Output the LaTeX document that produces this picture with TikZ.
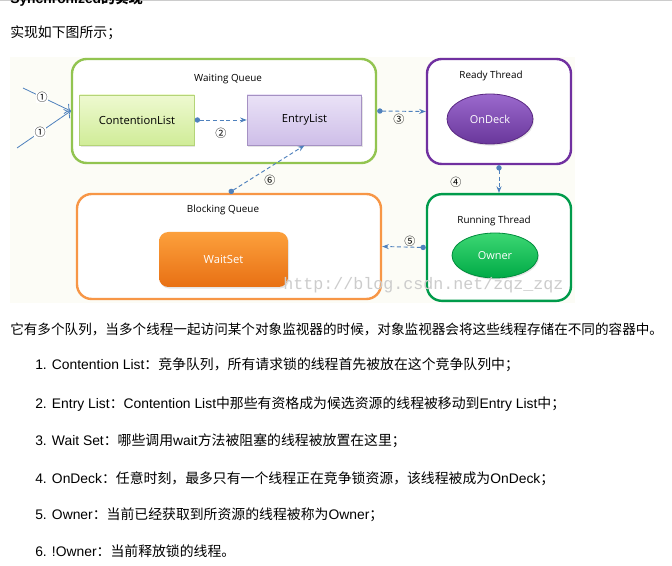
\documentclass[tikz,border=0pt]{standalone}
\usepackage{fontspec}
\setmainfont{Liberation Sans}
\newfontfamily\cjk{Noto Sans CJK SC}
\newfontfamily\diag{Open Sans}
\newfontfamily\wmark{Liberation Mono}
\usepackage{tikz}
\usetikzlibrary{shapes.geometric,arrows.meta,shadows}
\definecolor{wqgreen}{RGB}{146,196,80}
\definecolor{rtpurple}{RGB}{112,48,160}
\definecolor{rngreen}{RGB}{0,155,75}
\definecolor{bqorange}{RGB}{247,150,70}
\definecolor{flowblue}{RGB}{79,129,189}
\definecolor{diagbg}{RGB}{252,252,246}
\tikzset{
    queue/.style={draw, rounded corners=11pt, line width=1.8pt, fill=white},
    qtitle/.style={font=\diag\fontsize{7.4}{8}\selectfont, inner sep=1pt},
    listbox/.style={draw, line width=0.6pt, minimum width=86pt, minimum height=37.5pt,
        font=\diag\fontsize{8.4}{9}\selectfont,
        drop shadow={opacity=0.2, shadow xshift=0.8pt, shadow yshift=-1.2pt}},
    thread/.style={ellipse, draw, line width=0.6pt, minimum width=64.5pt, text=white,
        font=\diag\fontsize{8.2}{9}\selectfont,
        drop shadow={opacity=0.2, shadow xshift=0.8pt, shadow yshift=-1.2pt}},
    num/.style={font=\cjk\fontsize{8.3}{9}\selectfont, inner sep=0.3pt},
    flow/.style={draw=flowblue, densely dashed, line width=0.7pt, arrows={Circle[length=4pt]-Stealth[length=5pt]}},
    entry/.style={draw=flowblue, line width=0.6pt, arrows={-To[length=4pt]}},
    textline/.style={anchor=west, inner sep=0pt, font=\fontsize{10.4}{12}\selectfont}
}
\begin{document}
\begin{tikzpicture}[x=0.75pt, y=-0.75pt]
    \useasboundingbox (0,0) rectangle (672,566);
    \clip (0,0) rectangle (672,566);
    \fill[white] (0,0) rectangle (672,566);
    \draw[gray!40, line width=1pt] (0,0.5) -- (672,0.5);

    % Text above
    \node[anchor=base west, inner sep=0pt, font=\bfseries\fontsize{10.4}{12}\selectfont] (head) at (10,4) {Synchronized{\cjk\bfseries 的实现}};
    \node[textline] (intro) at (10,33) {{\cjk 实现如下图所示；}};

    % Diagram
    \fill[diagbg] (10,57) rectangle (575,303);

    \node[queue, draw=wqgreen, minimum width=228pt, minimum height=78pt] (wq) at (224,111) {};
    \node[queue, draw=rtpurple, minimum width=108pt, minimum height=78.75pt] (rt) at (499,111.5) {};
    \node[queue, draw=rngreen, minimum width=108pt, minimum height=80pt] (run) at (499,247.5) {};
    \node[queue, draw=bqorange, minimum width=228pt, minimum height=78.75pt] (bq) at (229,246.5) {};

    \node[qtitle] (wqtitle) at (228,79) {Waiting Queue};
    \node[qtitle] (rttitle) at (491,76) {Ready Thread};
    \node[qtitle] (runtitle) at (494,221) {Running Thread};
    \node[qtitle] (bqtitle) at (223,210) {Blocking Queue};

    \node[listbox, draw={rgb,255:red,180;green,212;blue,120}, top color={rgb,255:red,238;green,249;blue,208}, bottom color={rgb,255:red,208;green,236;blue,152}] (cl) at (137,120) {ContentionList};
    \node[listbox, draw={rgb,255:red,165;green,145;blue,195}, top color={rgb,255:red,234;green,226;blue,247}, bottom color={rgb,255:red,206;green,190;blue,232}] (el) at (304.5,120) {EntryList};
    \node[listbox, draw=none, rounded corners=7pt, minimum width=96.75pt, minimum height=41.25pt, text=white, top color={rgb,255:red,252;green,160;blue,60}, bottom color={rgb,255:red,232;green,112;blue,20}] (ws) at (223.5,259.5) {WaitSet};
    \node[thread, minimum height=37.5pt, draw={rgb,255:red,90;green,40;blue,130}, top color={rgb,255:red,155;green,105;blue,205}, bottom color={rgb,255:red,105;green,55;blue,155}] (od) at (490,119) {OnDeck};
    \node[thread, minimum height=33.75pt, draw={rgb,255:red,0;green,140;blue,60}, top color={rgb,255:red,60;green,215;blue,115}, bottom color={rgb,255:red,0;green,170;blue,70}] (ow) at (495,255.5) {Owner};

    % edges
    \coordinate (in1a) at (23,88);
    \coordinate (in1b) at (17,148);
    \draw[entry] (in1a) -- (wq.west) node[num, pos=0.4, fill=white] (n1a) {①};
    \draw[entry] (in1b) -- (wq.west) node[num, pos=0.43, fill=white] (n1b) {①};
    \draw[flow] (cl.east) -- (el.west);
    \draw[flow] (wq.east) -- (rt.west);
    \draw[flow] (rt.south) -- (run.north);
    \draw[flow] (run.west) -- (bq.east);
    \draw[flow] (bq.north) -- (el.south);

    \node[num] (n2) at (221,133) {②};
    \node[num] (n3) at (399,119) {③};
    \node[num] (n4) at (456,182) {④};
    \node[num] (n5) at (410,241) {⑤};
    \node[num] (n6) at (270,180) {⑥};

    \node[font=\wmark\fontsize{12.5}{13}\selectfont, text=gray!40, inner sep=0pt, anchor=west] (wm) at (283,285) {http://blog.csdn.net/zqz\_zqz};

    % Text below
    \node[textline, font=\fontsize{10.2}{12}\selectfont] (para) at (10,329) {{\cjk 它有多个队列，当多个线程一起访问某个对象监视器的时候，对象监视器会将这些线程存储在不同的容器中。}};
    \node[textline] (item1) at (35,365) {1. Contention List{\cjk ：竞争队列，所有请求锁的线程首先被放在这个竞争队列中；}};
    \node[textline] (item2) at (35,404) {2. Entry List{\cjk ：}Contention List{\cjk 中那些有资格成为候选资源的线程被移动到}Entry List{\cjk 中；}};
    \node[textline] (item3) at (35,441) {3. Wait Set{\cjk ：哪些调用}wait{\cjk 方法被阻塞的线程被放置在这里；}};
    \node[textline] (item4) at (35,479) {4. OnDeck{\cjk ：任意时刻，最多只有一个线程正在竞争锁资源，该线程被成为}OnDeck{\cjk ；}};
    \node[textline] (item5) at (35,515) {5. Owner{\cjk ：当前已经获取到所资源的线程被称为}Owner{\cjk ；}};
    \node[textline] (item6) at (35,551) {6. !Owner{\cjk ：当前释放锁的线程。}};
\end{tikzpicture}
\end{document}
